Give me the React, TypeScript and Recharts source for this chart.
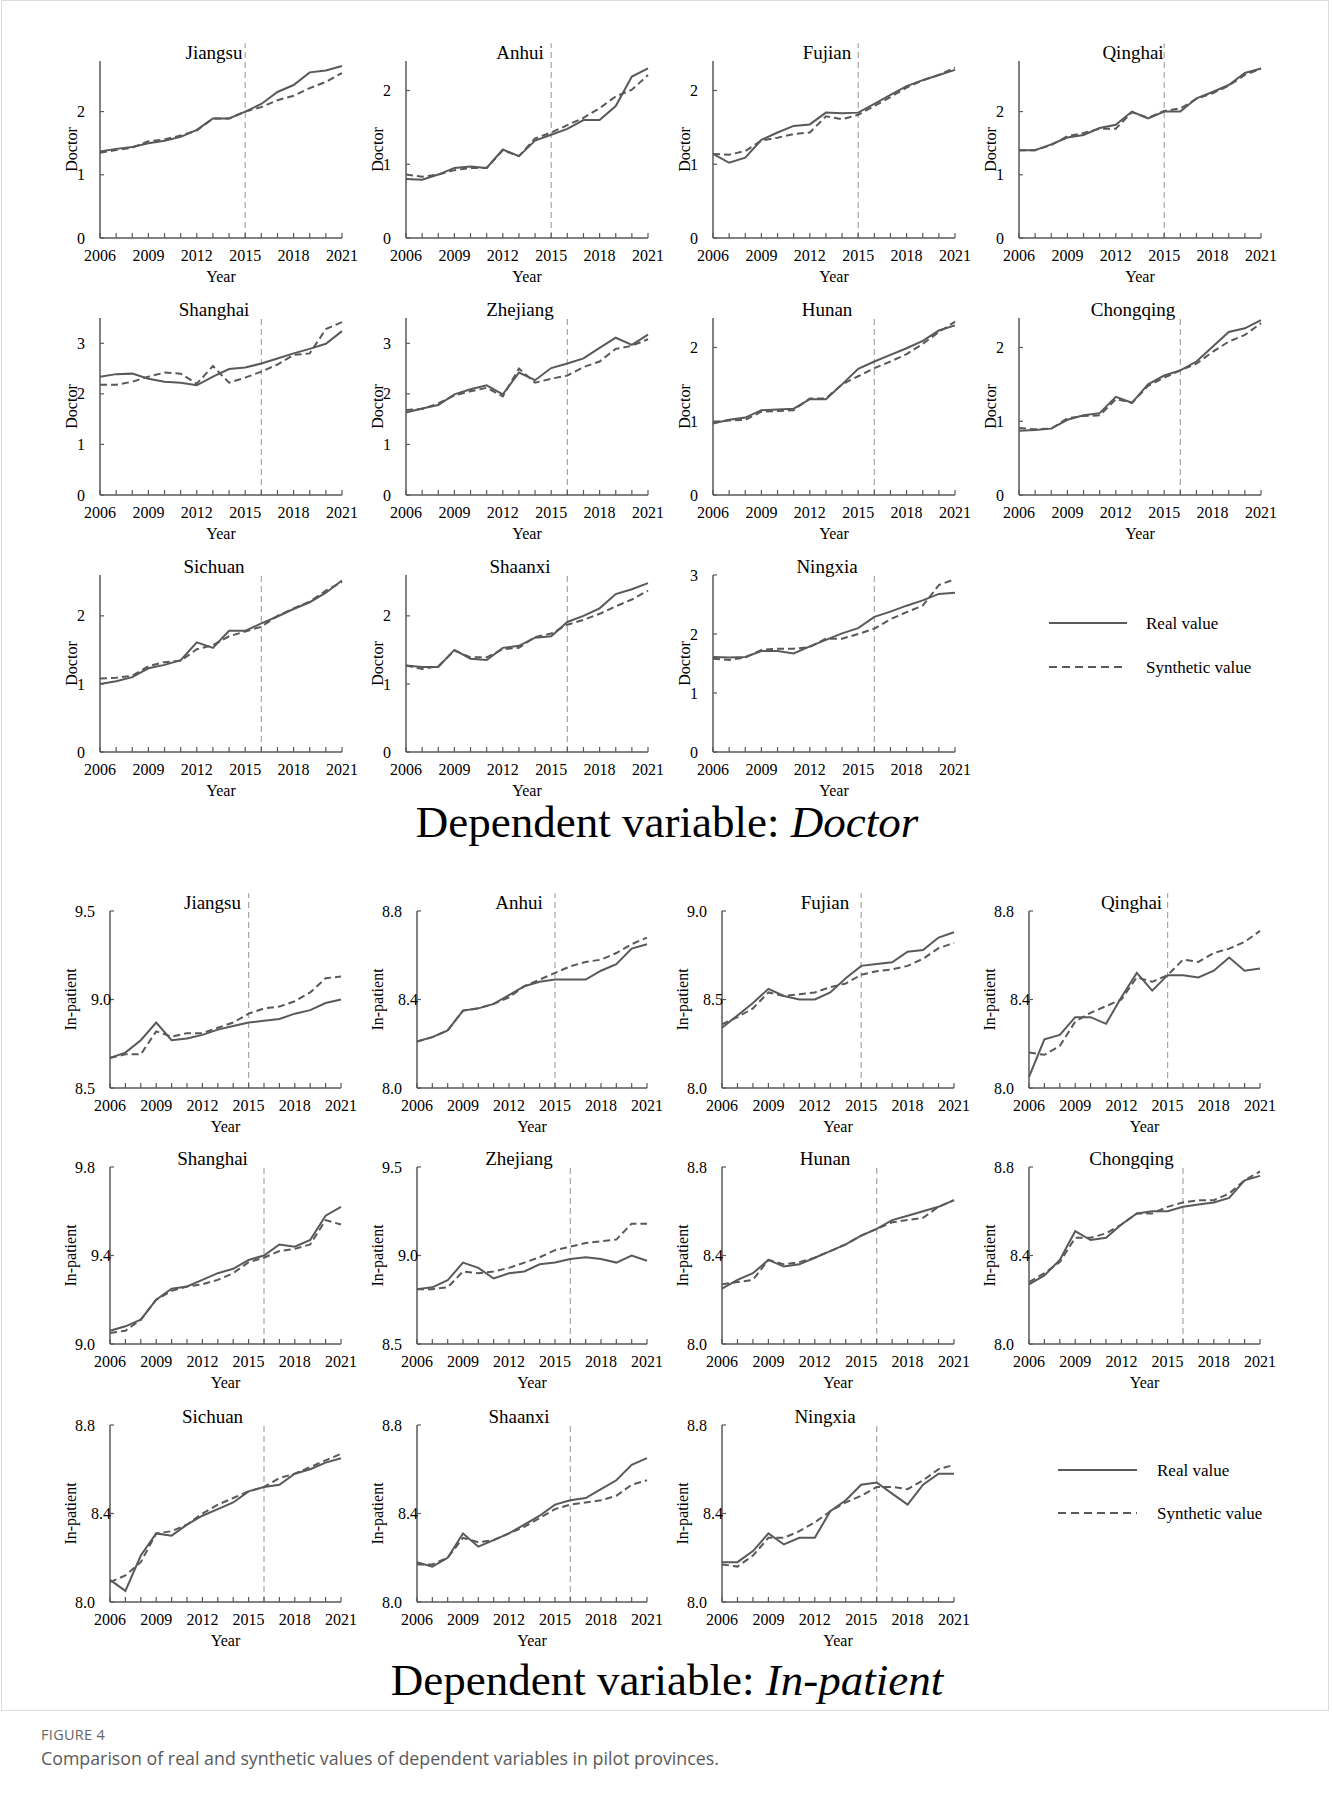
import React from 'react';
import { LineChart, Line, XAxis, YAxis, ReferenceLine } from 'recharts';

const years = [2006, 2007, 2008, 2009, 2010, 2011, 2012, 2013, 2014, 2015, 2016, 2017, 2018, 2019, 2020, 2021];
const yearLabels = [2006, 2009, 2012, 2015, 2018, 2021];
const seriesNames = ['Real value', 'Synthetic value'];
const provinces = ['Jiangsu', 'Anhui', 'Fujian', 'Qinghai', 'Shanghai', 'Zhejiang', 'Hunan', 'Chongqing', 'Sichuan', 'Shaanxi', 'Ningxia'];
const policyYears = [2015, 2015, 2015, 2015, 2016, 2016, 2016, 2016, 2016, 2016, 2016];

// Doctor
const docRealJiangsu = [1.37, 1.41, 1.44, 1.5, 1.54, 1.6, 1.71, 1.89, 1.89, 2.0, 2.12, 2.31, 2.42, 2.62, 2.65, 2.72];
const docSynJiangsu = [1.35, 1.39, 1.43, 1.53, 1.56, 1.62, 1.7, 1.89, 1.89, 2.0, 2.07, 2.18, 2.25, 2.37, 2.47, 2.61];
const docRealAnhui = [0.8, 0.79, 0.86, 0.95, 0.97, 0.95, 1.2, 1.11, 1.32, 1.4, 1.48, 1.6, 1.6, 1.79, 2.19, 2.3];
const docSynAnhui = [0.86, 0.83, 0.86, 0.92, 0.95, 0.95, 1.19, 1.11, 1.35, 1.43, 1.53, 1.63, 1.76, 1.92, 2.01, 2.21];
const docRealFujian = [1.14, 1.02, 1.09, 1.33, 1.43, 1.52, 1.54, 1.7, 1.69, 1.7, 1.82, 1.94, 2.06, 2.14, 2.21, 2.28];
const docSynFujian = [1.14, 1.13, 1.18, 1.32, 1.36, 1.41, 1.43, 1.65, 1.61, 1.67, 1.79, 1.91, 2.04, 2.14, 2.21, 2.31];
const docRealQinghai = [1.39, 1.39, 1.48, 1.59, 1.63, 1.74, 1.79, 2.0, 1.89, 2.0, 2.0, 2.21, 2.31, 2.42, 2.61, 2.68];
const docSynQinghai = [1.39, 1.39, 1.47, 1.61, 1.66, 1.73, 1.73, 1.99, 1.9, 2.01, 2.05, 2.2, 2.29, 2.41, 2.58, 2.68];
const docRealShanghai = [2.34, 2.39, 2.4, 2.3, 2.24, 2.22, 2.17, 2.34, 2.49, 2.52, 2.6, 2.7, 2.8, 2.89, 2.99, 3.24];
const docSynShanghai = [2.18, 2.18, 2.24, 2.34, 2.42, 2.4, 2.2, 2.55, 2.22, 2.32, 2.44, 2.58, 2.77, 2.8, 3.28, 3.42];
const docRealZhejiang = [1.63, 1.71, 1.78, 1.99, 2.09, 2.17, 1.99, 2.42, 2.27, 2.51, 2.6, 2.7, 2.91, 3.11, 2.97, 3.17];
const docSynZhejiang = [1.68, 1.7, 1.81, 1.97, 2.05, 2.12, 1.95, 2.5, 2.22, 2.3, 2.36, 2.53, 2.64, 2.89, 2.95, 3.08];
const docRealHunan = [0.97, 1.02, 1.05, 1.15, 1.16, 1.17, 1.3, 1.3, 1.5, 1.71, 1.81, 1.9, 1.99, 2.09, 2.23, 2.3];
const docSynHunan = [0.99, 1.01, 1.02, 1.13, 1.14, 1.15, 1.31, 1.31, 1.5, 1.61, 1.72, 1.81, 1.91, 2.05, 2.21, 2.35];
const docRealChongqing = [0.87, 0.88, 0.9, 1.02, 1.08, 1.11, 1.33, 1.25, 1.5, 1.62, 1.69, 1.81, 2.01, 2.21, 2.26, 2.37];
const docSynChongqing = [0.91, 0.89, 0.9, 1.04, 1.07, 1.08, 1.3, 1.25, 1.48, 1.59, 1.69, 1.78, 1.94, 2.08, 2.17, 2.33];
const docRealSichuan = [1.0, 1.04, 1.1, 1.23, 1.28, 1.35, 1.61, 1.53, 1.78, 1.78, 1.89, 1.99, 2.1, 2.2, 2.34, 2.52];
const docSynSichuan = [1.08, 1.09, 1.12, 1.26, 1.32, 1.34, 1.51, 1.57, 1.7, 1.77, 1.84, 2.0, 2.11, 2.21, 2.37, 2.5];
const docRealShaanxi = [1.27, 1.25, 1.25, 1.5, 1.37, 1.35, 1.53, 1.56, 1.68, 1.7, 1.91, 2.0, 2.11, 2.32, 2.39, 2.48];
const docSynShaanxi = [1.27, 1.22, 1.26, 1.49, 1.39, 1.39, 1.51, 1.53, 1.69, 1.74, 1.87, 1.94, 2.03, 2.14, 2.24, 2.37];
const docRealNingxia = [1.61, 1.6, 1.61, 1.71, 1.71, 1.67, 1.79, 1.9, 2.01, 2.1, 2.29, 2.38, 2.48, 2.57, 2.68, 2.7];
const docSynNingxia = [1.58, 1.56, 1.6, 1.73, 1.75, 1.75, 1.78, 1.92, 1.92, 2.0, 2.09, 2.25, 2.37, 2.48, 2.83, 2.93];

const doctorReal = [docRealJiangsu, docRealAnhui, docRealFujian, docRealQinghai, docRealShanghai, docRealZhejiang, docRealHunan, docRealChongqing, docRealSichuan, docRealShaanxi, docRealNingxia];
const doctorSyn = [docSynJiangsu, docSynAnhui, docSynFujian, docSynQinghai, docSynShanghai, docSynZhejiang, docSynHunan, docSynChongqing, docSynSichuan, docSynShaanxi, docSynNingxia];
const doctorMax = [2.8, 2.4, 2.4, 2.8, 3.5, 3.5, 2.4, 2.4, 2.6, 2.6, 3];
const doctorTicks = [[0, 1, 2], [0, 1, 2], [0, 1, 2], [0, 1, 2], [0, 1, 2, 3], [0, 1, 2, 3], [0, 1, 2], [0, 1, 2], [0, 1, 2], [0, 1, 2], [0, 1, 2, 3]];

// In-patient
const inpRealJiangsu = [8.67, 8.7, 8.77, 8.87, 8.77, 8.78, 8.8, 8.83, 8.85, 8.87, 8.88, 8.89, 8.92, 8.94, 8.98, 9.0];
const inpSynJiangsu = [8.67, 8.69, 8.69, 8.82, 8.79, 8.81, 8.81, 8.84, 8.87, 8.92, 8.95, 8.96, 8.99, 9.04, 9.12, 9.13];
const inpRealAnhui = [8.21, 8.23, 8.26, 8.35, 8.36, 8.38, 8.42, 8.46, 8.48, 8.49, 8.49, 8.49, 8.53, 8.56, 8.63, 8.65];
const inpSynAnhui = [8.21, 8.23, 8.26, 8.35, 8.36, 8.38, 8.41, 8.46, 8.49, 8.52, 8.55, 8.57, 8.58, 8.61, 8.65, 8.68];
const inpRealFujian = [8.34, 8.41, 8.48, 8.56, 8.52, 8.5, 8.5, 8.54, 8.62, 8.69, 8.7, 8.71, 8.77, 8.78, 8.85, 8.88];
const inpSynFujian = [8.36, 8.4, 8.45, 8.54, 8.52, 8.53, 8.54, 8.57, 8.59, 8.64, 8.66, 8.67, 8.69, 8.73, 8.79, 8.82];
const inpRealQinghai = [8.05, 8.22, 8.24, 8.32, 8.32, 8.29, 8.41, 8.52, 8.44, 8.51, 8.51, 8.5, 8.53, 8.59, 8.53, 8.54];
const inpSynQinghai = [8.16, 8.15, 8.19, 8.3, 8.34, 8.37, 8.4, 8.5, 8.48, 8.51, 8.58, 8.57, 8.61, 8.63, 8.66, 8.71];
const inpRealShanghai = [9.06, 9.08, 9.11, 9.2, 9.25, 9.26, 9.29, 9.32, 9.34, 9.38, 9.4, 9.45, 9.44, 9.47, 9.58, 9.62];
const inpSynShanghai = [9.05, 9.06, 9.11, 9.2, 9.24, 9.26, 9.27, 9.29, 9.32, 9.37, 9.39, 9.42, 9.43, 9.45, 9.56, 9.54];
const inpRealZhejiang = [8.81, 8.82, 8.86, 8.96, 8.93, 8.87, 8.9, 8.91, 8.95, 8.96, 8.98, 8.99, 8.98, 8.96, 9.0, 8.97];
const inpSynZhejiang = [8.81, 8.81, 8.82, 8.91, 8.9, 8.91, 8.93, 8.96, 8.99, 9.03, 9.05, 9.07, 9.08, 9.09, 9.18, 9.18];
const inpRealHunan = [8.25, 8.29, 8.32, 8.38, 8.35, 8.36, 8.39, 8.42, 8.45, 8.49, 8.52, 8.56, 8.58, 8.6, 8.62, 8.65];
const inpSynHunan = [8.27, 8.28, 8.29, 8.38, 8.36, 8.37, 8.39, 8.42, 8.45, 8.49, 8.52, 8.55, 8.56, 8.57, 8.62, 8.65];
const inpRealChongqing = [8.27, 8.31, 8.38, 8.51, 8.47, 8.48, 8.54, 8.59, 8.6, 8.6, 8.62, 8.63, 8.64, 8.66, 8.74, 8.76];
const inpSynChongqing = [8.28, 8.32, 8.37, 8.48, 8.48, 8.5, 8.54, 8.59, 8.59, 8.62, 8.64, 8.65, 8.65, 8.68, 8.74, 8.78];
const inpRealSichuan = [8.1, 8.05, 8.21, 8.31, 8.3, 8.35, 8.39, 8.42, 8.45, 8.5, 8.52, 8.53, 8.58, 8.6, 8.63, 8.65];
const inpSynSichuan = [8.09, 8.12, 8.18, 8.31, 8.32, 8.35, 8.4, 8.44, 8.47, 8.5, 8.52, 8.56, 8.58, 8.61, 8.64, 8.67];
const inpRealShaanxi = [8.18, 8.16, 8.2, 8.31, 8.25, 8.28, 8.31, 8.35, 8.39, 8.44, 8.46, 8.47, 8.51, 8.55, 8.62, 8.65];
const inpSynShaanxi = [8.17, 8.17, 8.2, 8.29, 8.27, 8.28, 8.31, 8.34, 8.38, 8.42, 8.44, 8.45, 8.46, 8.48, 8.53, 8.55];
const inpRealNingxia = [8.18, 8.18, 8.23, 8.31, 8.26, 8.29, 8.29, 8.41, 8.46, 8.53, 8.54, 8.49, 8.44, 8.53, 8.58, 8.58];
const inpSynNingxia = [8.17, 8.16, 8.21, 8.29, 8.29, 8.32, 8.36, 8.41, 8.45, 8.48, 8.52, 8.52, 8.51, 8.55, 8.6, 8.62];

const inpReal = [inpRealJiangsu, inpRealAnhui, inpRealFujian, inpRealQinghai, inpRealShanghai, inpRealZhejiang, inpRealHunan, inpRealChongqing, inpRealSichuan, inpRealShaanxi, inpRealNingxia];
const inpSyn = [inpSynJiangsu, inpSynAnhui, inpSynFujian, inpSynQinghai, inpSynShanghai, inpSynZhejiang, inpSynHunan, inpSynChongqing, inpSynSichuan, inpSynShaanxi, inpSynNingxia];
const inpDomains = [[8.5, 9.5], [8.0, 8.8], [8.0, 9.0], [8.0, 8.8], [9.0, 9.8], [8.5, 9.5], [8.0, 8.8], [8.0, 8.8], [8.0, 8.8], [8.0, 8.8], [8.0, 8.8]];
const inpTicks = [[8.5, 9.0, 9.5], [8.0, 8.4, 8.8], [8.0, 8.5, 9.0], [8.0, 8.4, 8.8], [9.0, 9.4, 9.8], [8.5, 9.0, 9.5], [8.0, 8.4, 8.8], [8.0, 8.4, 8.8], [8.0, 8.4, 8.8], [8.0, 8.4, 8.8], [8.0, 8.4, 8.8]];

// layout
const FONT = "'Times New Roman', 'Liberation Serif', Times, serif";
const INK = '#000';
const LINE = '#595959';
const PLOT_H = 177;
const MT = 24;
const MR = 24;
const XH = 50;
const Y_MARGIN = 15;

const doctorAxisX = [100, 406, 713, 1019];
const doctorRight = [342, 648, 955, 1261];
const doctorTops = [61, 318, 575];
const inpAxisX = [110, 417, 722, 1029];
const inpRight = [341, 647, 954, 1260];
const inpTops = [911, 1167, 1425];

const renderXTick = (props: any) => {
  const { x, y, payload } = props;
  const axisY = y - 17;
  const show = yearLabels.includes(payload.value);
  return (
    <g>
      <line x1={x} x2={x} y1={axisY} y2={axisY - 5} stroke={LINE} strokeWidth={1.2} />
      {show && (
        <text x={x} y={y} dy="0.35em" textAnchor="middle" fontSize={16} fontFamily={FONT} fill={INK}>
          {payload.value}
        </text>
      )}
    </g>
  );
};

// in the In-patient panels the middle label is pushed against the axis by the axis title
const makeYTick = (decimals: number, middle: number | null) => (props: any) => {
  const { x, y, payload } = props;
  const axisX = x + Y_MARGIN;
  const tx = middle !== null && payload.value === middle ? axisX + 1 : x;
  return (
    <g>
      <line x1={axisX} x2={axisX + 4} y1={y} y2={y} stroke={LINE} strokeWidth={1.2} />
      <text x={tx} y={y} dy="0.35em" textAnchor="end" fontSize={16} fontFamily={FONT} fill={INK}>
        {Number(payload.value).toFixed(decimals)}
      </text>
    </g>
  );
};

interface PanelProps {
  axisX: number;
  right: number;
  top: number;
  title: string;
  yLabel: string;
  yw: number;
  labelDist: number;
  domain: number[];
  ticks: number[];
  decimals: number;
  middle: number | null;
  real: number[];
  synth: number[];
  breakYear: number;
  refExt: number;
  titleShift: number;
}

const Panel = (p: PanelProps) => {
  const plotW = p.right - p.axisX;
  const width = p.yw + plotW + MR;
  const height = MT + PLOT_H + XH;
  const data = years.map((year, i) => ({ year, real: p.real[i], synth: p.synth[i] }));
  const refTop = p.domain[1] + p.refExt * (p.domain[1] - p.domain[0]);
  return (
    <>
      <div style={{ position: 'absolute', left: p.axisX - p.yw, top: p.top - MT }}>
        <LineChart width={width} height={height} data={data} margin={{ top: MT, right: MR, left: 0, bottom: 0 }}>
          <XAxis
            dataKey="year"
            type="number"
            domain={[years[0], years[years.length - 1]]}
            ticks={years}
            interval={0}
            tickSize={0}
            tickMargin={17}
            height={XH}
            axisLine={{ stroke: LINE, strokeWidth: 1.5 }}
            tickLine={false}
            tick={renderXTick}
            label={{ value: 'Year', position: 'insideBottom', offset: 6, style: { fontSize: 16, fontFamily: FONT, fill: INK } }}
          />
          <YAxis
            type="number"
            domain={p.domain}
            ticks={p.ticks}
            interval={0}
            tickSize={0}
            tickMargin={Y_MARGIN}
            width={p.yw}
            axisLine={{ stroke: LINE, strokeWidth: 1.5 }}
            tickLine={false}
            tick={makeYTick(p.decimals, p.middle)}
            label={{
              value: p.yLabel,
              angle: -90,
              position: 'insideLeft',
              offset: p.yw - p.labelDist,
              style: { textAnchor: 'middle', fontSize: 16, fontFamily: FONT, fill: INK },
            }}
          />
          <ReferenceLine
            segment={[{ x: p.breakYear, y: p.domain[0] }, { x: p.breakYear, y: refTop }]}
            ifOverflow="visible"
            stroke="#a6a6a6"
            strokeWidth={1.2}
            strokeDasharray="6 4"
          />
          <Line type="linear" dataKey="real" name={seriesNames[0]} stroke={LINE} strokeWidth={2} dot={false} isAnimationActive={false} />
          <Line type="linear" dataKey="synth" name={seriesNames[1]} stroke={LINE} strokeWidth={2} strokeDasharray="7 4" dot={false} isAnimationActive={false} />
        </LineChart>
      </div>
      <div
        style={{
          position: 'absolute',
          left: (p.axisX + p.right) / 2 + p.titleShift,
          top: p.top - 9,
          transform: 'translate(-50%, -50%)',
          fontSize: 19,
          fontFamily: FONT,
          whiteSpace: 'nowrap',
          lineHeight: 1,
          color: INK,
        }}
      >
        {p.title}
      </div>
    </>
  );
};

const LegendBox = ({ x1, x2, y, gap, textX }: { x1: number; x2: number; y: number; gap: number; textX: number }) => (
  <svg style={{ position: 'absolute', left: x1, top: y - 15 }} width={textX - x1 + 140} height={gap + 30}>
    <line x1={0} x2={x2 - x1} y1={15} y2={15} stroke={LINE} strokeWidth={2} />
    <line x1={0} x2={x2 - x1} y1={15 + gap} y2={15 + gap} stroke={LINE} strokeWidth={2} strokeDasharray="8 5" />
    <text x={textX - x1} y={15} dy="0.35em" fontSize={17} fontFamily={FONT} fill={INK}>{seriesNames[0]}</text>
    <text x={textX - x1} y={15 + gap} dy="0.35em" fontSize={17} fontFamily={FONT} fill={INK}>{seriesNames[1]}</text>
  </svg>
);

const Heading = ({ y, name }: { y: number; name: string }) => (
  <div
    style={{
      position: 'absolute',
      left: 667,
      top: y,
      transform: 'translate(-50%, -50%)',
      fontSize: 45,
      fontFamily: FONT,
      whiteSpace: 'nowrap',
      lineHeight: 1,
      color: INK,
    }}
  >
    Dependent variable: <i>{name}</i>
  </div>
);

export default function App() {
  return (
    <div style={{ position: 'absolute', left: 0, top: 0, width: 1332, height: 1794, background: '#fff', overflow: 'hidden' }}>
      <div style={{ position: 'absolute', left: 1, top: 0, width: 1328, height: 1711, border: '1px solid #dcdcdc', boxSizing: 'border-box' }} />
      {provinces.map((name, i) => (
        <Panel
          key={'doc-' + name}
          axisX={doctorAxisX[i % 4]}
          right={doctorRight[i % 4]}
          top={doctorTops[Math.floor(i / 4)]}
          title={name}
          yLabel="Doctor"
          yw={50}
          labelDist={29}
          domain={[0, doctorMax[i]]}
          ticks={doctorTicks[i]}
          decimals={0}
          middle={null}
          real={doctorReal[i]}
          synth={doctorSyn[i]}
          breakYear={policyYears[i]}
          refExt={i < 4 ? 0.1 : 0}
          titleShift={-7}
        />
      ))}
      <LegendBox x1={1049} x2={1127} y={623} gap={44} textX={1146} />
      <Heading y={822} name="Doctor" />
      {provinces.map((name, i) => (
        <Panel
          key={'inp-' + name}
          axisX={inpAxisX[i % 4]}
          right={inpRight[i % 4]}
          top={inpTops[Math.floor(i / 4)]}
          title={name}
          yLabel="In-patient"
          yw={60}
          labelDist={40}
          domain={inpDomains[i]}
          ticks={inpTicks[i]}
          decimals={1}
          middle={inpTicks[i][1]}
          real={inpReal[i]}
          synth={inpSyn[i]}
          breakYear={policyYears[i]}
          refExt={i < 4 ? 0.1 : 0}
          titleShift={-13}
        />
      ))}
      <LegendBox x1={1058} x2={1137} y={1470} gap={43} textX={1157} />
      <Heading y={1680} name="In-patient" />
      <div style={{ position: 'absolute', left: 41, top: 1728, fontSize: 14.5, fontFamily: "'Open Sans', sans-serif", color: '#666', letterSpacing: 0.3, lineHeight: 1 }}>
        FIGURE 4
      </div>
      <div style={{ position: 'absolute', left: 41, top: 1748, fontSize: 17.8, fontFamily: "'Open Sans', sans-serif", color: '#5a5a5a', lineHeight: 1.2, whiteSpace: 'nowrap' }}>
        Comparison of real and synthetic values of dependent variables in pilot provinces.
      </div>
    </div>
  );
}
